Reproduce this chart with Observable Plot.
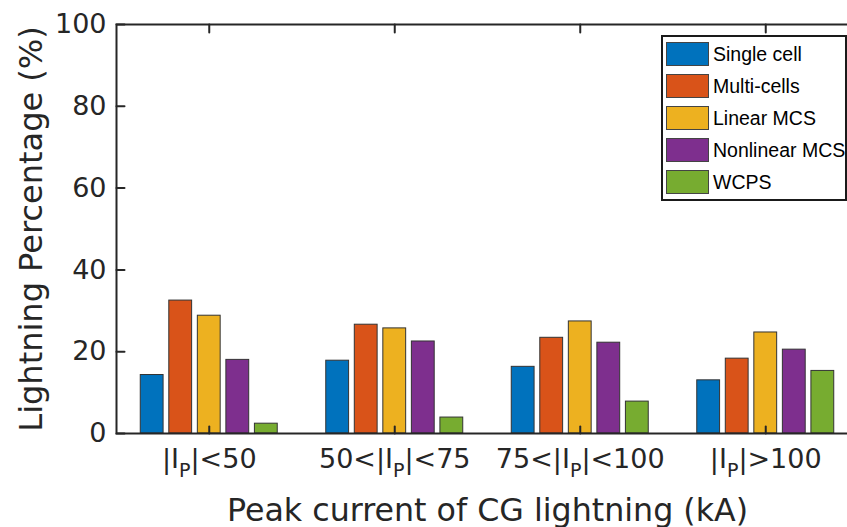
<!DOCTYPE html>
<html>
<head>
<meta charset="utf-8">
<script src="https://cdn.jsdelivr.net/npm/d3@7"></script>
<script src="https://cdn.jsdelivr.net/npm/@observablehq/plot@0.6"></script>
<style>
  html, body { margin: 0; padding: 0; background: #fff; overflow: hidden; }
  #wrap { position: relative; width: 847px; height: 527px; overflow: hidden; }
  #legend { position: absolute; left: 661px; top: 35px; width: 186px; height: 166px;
    box-sizing: border-box; border: 2px solid #1a1a1a; background: #fff;
    font-family: "Liberation Sans", Arial, sans-serif; font-size: 19.5px; color: #000; padding-top: 1px; white-space: nowrap; }
  .row { display: flex; align-items: center; height: 32px; }
  .sw { width: 43px; height: 24px; box-sizing: border-box; border: 1px solid #444; margin-left: 3px; margin-right: 4px; flex: none; }
</style>
</head>
<body>
<div id="wrap"></div>
<script>
// ---- data ----
const categories = ["|I{P}|<50", "50<|I{P}|<75", "75<|I{P}|<100", "|I{P}|>100"];
const seriesNames = ["Single cell", "Multi-cells", "Linear MCS", "Nonlinear MCS", "WCPS"];
const singleCell   = [14.3, 17.8, 16.3, 13.0];
const multiCells   = [32.5, 26.6, 23.4, 18.3];
const linearMCS    = [28.8, 25.7, 27.4, 24.7];
const nonlinearMCS = [18.0, 22.5, 22.2, 20.5];
const wcps         = [2.4, 3.9, 7.8, 15.3];
const yTicks = [0, 20, 40, 60, 80, 100];
const colors = ["#0072BD", "#D95319", "#EDB120", "#7E2F8E", "#77AC30"];

const seriesValues = [singleCell, multiCells, linearMCS, nonlinearMCS, wcps];
const xTicks = categories.map((_, i) => i + 1);

// MATLAB grouped-bar geometry
const n = seriesNames.length;
const groupWidth = Math.min(0.8, n / (n + 1.5));
const pitch = groupWidth / n;
const barW = pitch * 0.8;

const rows = [];
seriesValues.forEach((vals, j) => {
  vals.forEach((v, i) => {
    const c = (i + 1) + (j - (n - 1) / 2) * pitch;
    rows.push({series: seriesNames[j], value: v, x1: c - barW / 2, x2: c + barW / 2});
  });
});

const tickShape = {draw(ctx, l) { ctx.moveTo(0, 0); ctx.lineTo(0, -l); }};
const ink = "#262626";

const plot = Plot.plot({
  width: 847,
  height: 527,
  marginLeft: 116,
  marginRight: -11,
  marginTop: 24,
  marginBottom: 94,
  style: {fontFamily: "DejaVu Sans", color: ink, background: "white", overflow: "visible"},
  x: {domain: [0.5, 4.5]},
  y: {domain: [0, 100]},
  color: {domain: seriesNames, range: colors},
  marks: [
    Plot.rectY(rows, {x1: "x1", x2: "x2", y1: 0, y2: "value", fill: "series", stroke: "#333", strokeWidth: 1}),
    Plot.frame({stroke: ink, strokeWidth: 2}),
    Plot.vector(yTicks, {y: d => d, frameAnchor: "left", rotate: 90, length: 8, anchor: "start", shape: tickShape, stroke: ink, strokeWidth: 2}),
    Plot.vector(xTicks, {x: d => d, frameAnchor: "bottom", rotate: 0, length: 7, anchor: "start", shape: tickShape, stroke: ink, strokeWidth: 2}),
    Plot.vector(xTicks, {x: d => d, frameAnchor: "top", rotate: 180, length: 8, anchor: "start", shape: tickShape, stroke: ink, strokeWidth: 2}),
    Plot.axisY({ticks: yTicks, tickSize: 0, tickPadding: 10, fontSize: 27, label: null}),
    Plot.axisX({ticks: xTicks, tickFormat: d => categories[d - 1], tickSize: 0, tickPadding: 15, fontSize: 27, label: null}),
    Plot.axisY({ticks: [], tickSize: 0, fontSize: 32, label: "Lightning Percentage (%)", labelArrow: "none", labelAnchor: "center", labelOffset: 97, dy: -8}),
    Plot.axisX({ticks: [], tickSize: 0, fontSize: 31.7, label: "Peak current of CG lightning (kA)", labelArrow: "none", labelAnchor: "center", labelOffset: 87})
  ]
});

// strip any label arrows (fallback)
d3.select(plot).selectAll("g[aria-label$='axis label'] text").each(function () {
  this.textContent = this.textContent.replace(/[↑↓←→]\s*|\s*[↑↓←→]/g, "");
});

// subscript P in category labels
d3.select(plot).selectAll("g[aria-label='x-axis tick label'] text").each(function () {
  const s = this.textContent;
  if (!s.includes("{P}")) return;
  const parts = s.split("{P}");
  const t = d3.select(this);
  t.text(null);
  parts.forEach((p, k) => {
    if (k > 0) {
      t.append("tspan").attr("font-size", 19).attr("dy", 9).text("P");
      t.append("tspan").attr("dy", -9).text(p);
    } else {
      t.append("tspan").text(p);
    }
  });
});

const wrap = document.getElementById("wrap");
wrap.appendChild(plot);

const legend = document.createElement("div");
legend.id = "legend";
seriesNames.forEach((name, j) => {
  const row = document.createElement("div");
  row.className = "row";
  const sw = document.createElement("div");
  sw.className = "sw";
  sw.style.background = colors[j];
  const lab = document.createElement("span");
  lab.textContent = name;
  row.appendChild(sw);
  row.appendChild(lab);
  legend.appendChild(row);
});
wrap.appendChild(legend);
</script>
</body>
</html>
